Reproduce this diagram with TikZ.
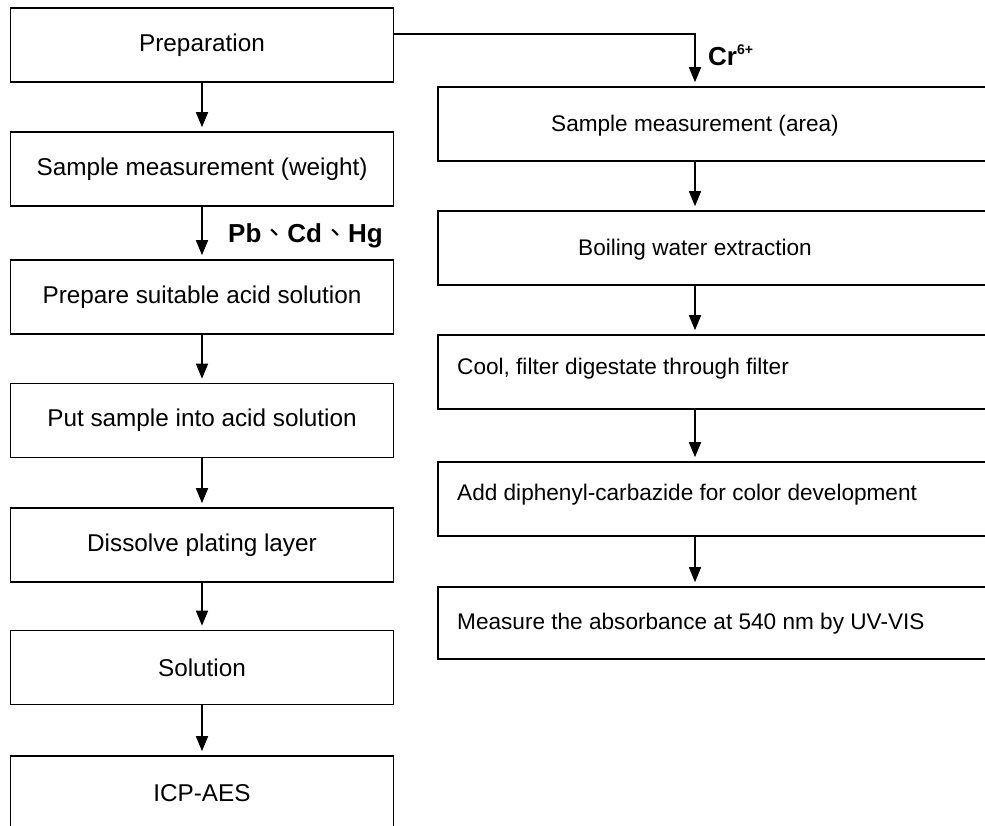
\documentclass[tikz,border=0pt]{standalone}
\usepackage{fontspec}
\setmainfont{Liberation Sans}
\newfontfamily\cjk{Noto Sans CJK TC}
\usetikzlibrary{arrows.meta}
\begin{document}
\begin{tikzpicture}[x=1pt,y=-1pt,
  box/.style={draw, line width=1.6pt, minimum height=74pt, inner sep=0pt, font=\fontsize{24.3}{29}\selectfont},
  lbox/.style={box, minimum width=383pt},
  rbox/.style={box, minimum width=600pt, anchor=west},
  txt/.style={font=\fontsize{22.6}{27}\selectfont, inner sep=0pt},
  lbl/.style={font=\fontsize{26}{30}\selectfont\bfseries, inner sep=0pt},
  arr/.style={line width=1.6pt, -{Triangle[length=15pt,width=12pt]}, shorten >=4pt}]
\useasboundingbox (0,0) rectangle (985,825);
\clip (0,0) rectangle (985,825);
% left column
\node[lbox] (prep) at (202,45) {Preparation};
\node[lbox] (l1) at (202,169) {Sample measurement (weight)};
\node[lbox] (l2) at (202,297) {Prepare suitable acid solution};
\node[lbox] (l3) at (202,420.5) {Put sample into acid solution};
\node[lbox] (l4) at (202,545) {Dissolve plating layer};
\node[lbox] (l5) at (202,667.5) {Solution};
\node[lbox] (l6) at (202,793) {ICP-AES};
% right column
\coordinate (rx) at (695,0);
\node[rbox] (r1) at (437,124) {};
\node[txt] (r1t) at ([yshift=-2pt]r1 -| rx) {Sample measurement (area)};
\node[rbox] (r2) at (437,248) {};
\node[txt] (r2t) at ([yshift=-2pt]r2 -| rx) {Boiling water extraction};
\node[rbox] (r3) at (437,372) {};
\node[txt, anchor=west] (r3t) at (457,369) {Cool, filter digestate through filter};
\node[rbox] (r4) at (437,499) {};
\node[txt, anchor=west] (r4t) at (457,495) {Add diphenyl-carbazide for color development};
\node[rbox, minimum height=72pt] (r5) at (437,623) {};
\node[txt, anchor=west] (r5t) at (457,624) {Measure the absorbance at 540 nm by UV-VIS};
% labels
\node[lbl, anchor=base west] (pb) at (228,242) {Pb{\cjk\mdseries 、}Cd{\cjk\mdseries 、}Hg};
\node[lbl, anchor=base west] (cr) at (708,65) {Cr\raisebox{11pt}{\fontsize{14}{14}\selectfont 6+}};
% connectors
\draw[arr] (prep) -- (l1);
\draw[arr] (l1) -- (l2);
\draw[arr] (l2) -- (l3);
\draw[arr] (l3) -- (l4);
\draw[arr] (l4) -- (l5);
\draw[arr] (l5) -- (l6);
\draw[arr] ([yshift=11pt]prep.east) -| (r1.north -| rx);
\draw[arr] (r1.south -| rx) -- (r2.north -| rx);
\draw[arr] (r2.south -| rx) -- (r3.north -| rx);
\draw[arr] (r3.south -| rx) -- (r4.north -| rx);
\draw[arr] (r4.south -| rx) -- (r5.north -| rx);
\end{tikzpicture}
\end{document}
